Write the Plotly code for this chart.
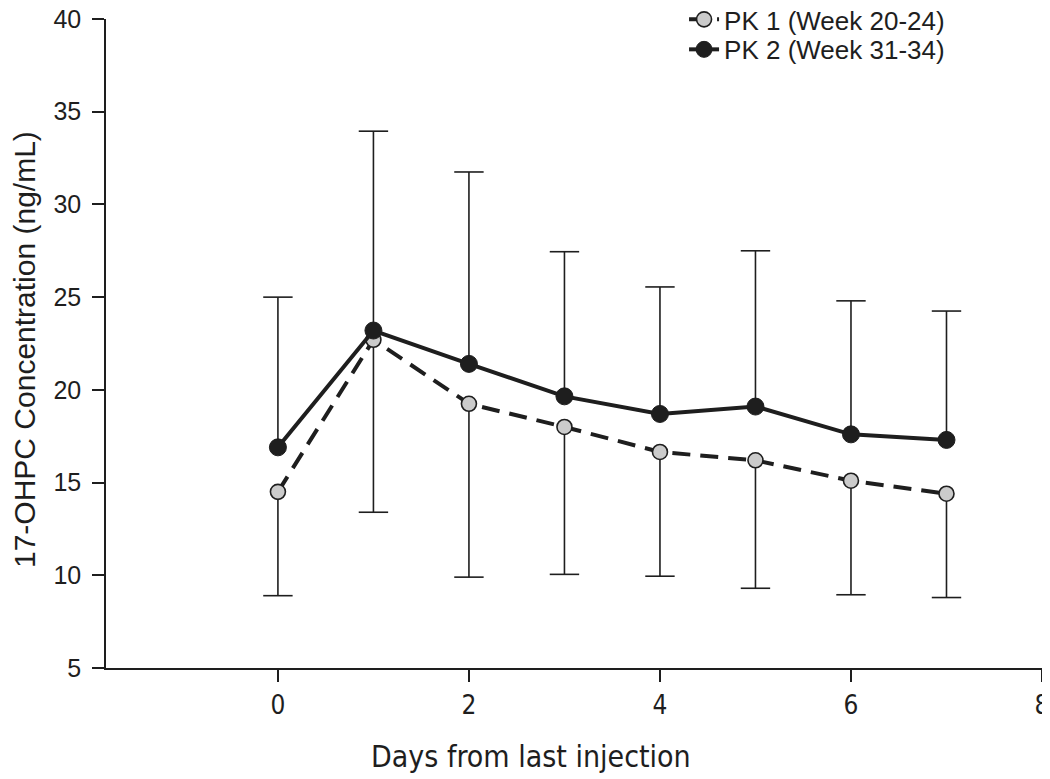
import plotly.graph_objects as go

# ---- data ----
days = [0, 1, 2, 3, 4, 5, 6, 7]
pk1_mean = [14.5, 22.7, 19.25, 18.0, 16.65, 16.2, 15.1, 14.4]
pk1_lower = [8.9, 13.4, 9.9, 10.05, 9.95, 9.3, 8.95, 8.8]
pk2_mean = [16.9, 23.2, 21.4, 19.65, 18.7, 19.1, 17.6, 17.3]
pk2_upper = [25.0, 33.95, 31.75, 27.45, 25.55, 27.5, 24.8, 24.25]
series_names = ["PK 1 (Week 20-24)", "PK 2 (Week 31-34)"]
x_ticks = [0, 2, 4, 6, 8]
y_ticks = [5, 10, 15, 20, 25, 30, 35, 40]
x_title = "Days from last injection"
y_title = "17-OHPC Concentration (ng/mL)"

INK = "#1e1e1e"
GRAY = "#cbcbcb"
FONT = "Liberation Sans, Arial, sans-serif"
NARROW = "Liberation Sans Narrow, DejaVu Sans Condensed, Arial Narrow, sans-serif"

fig = go.Figure()

# one-sided error bars: PK1 downward, PK2 upward
fig.add_trace(go.Scatter(
    x=days, y=pk1_mean, mode="markers", showlegend=False, hoverinfo="skip",
    marker=dict(size=1, opacity=0),
    error_y=dict(type="data", symmetric=False, array=[0] * len(days),
                 arrayminus=[m - l for m, l in zip(pk1_mean, pk1_lower)],
                 width=0, thickness=1.6, color=INK)))
fig.add_trace(go.Scatter(
    x=days, y=pk1_lower, mode="markers", showlegend=False, hoverinfo="skip",
    marker=dict(symbol="line-ew", size=21, line=dict(width=1.6, color=INK))))
fig.add_trace(go.Scatter(
    x=days, y=pk2_mean, mode="markers", showlegend=False, hoverinfo="skip",
    marker=dict(size=1, opacity=0),
    error_y=dict(type="data", symmetric=False,
                 array=[u - m for u, m in zip(pk2_upper, pk2_mean)],
                 arrayminus=[0] * len(days),
                 width=0, thickness=1.6, color=INK)))
fig.add_trace(go.Scatter(
    x=days, y=pk2_upper, mode="markers", showlegend=False, hoverinfo="skip",
    marker=dict(symbol="line-ew", size=21, line=dict(width=1.6, color=INK))))

# mean lines
fig.add_trace(go.Scatter(
    x=days, y=pk1_mean, mode="lines+markers", name=series_names[0], legend="legend",
    line=dict(color=INK, width=4, dash="18px,10px"),
    marker=dict(symbol="circle", size=15, color=GRAY, line=dict(color=INK, width=1.6))))
fig.add_trace(go.Scatter(
    x=days, y=pk2_mean, mode="lines+markers", name=series_names[1], legend="legend2",
    line=dict(color=INK, width=4),
    marker=dict(symbol="circle", size=17, color=INK, line=dict(color=INK, width=1))))

legend_common = dict(xref="container", yref="paper", xanchor="left", yanchor="top",
                     font=dict(family=FONT, size=26, color=INK),
                     bgcolor="rgba(0,0,0,0)", borderwidth=0)

# the page body adds an 8px offset, so the figure is 8px smaller than the window
fig.update_layout(
    width=1042, height=771,
    margin=dict(l=98, r=8, t=11, b=111, autoexpand=False),
    paper_bgcolor="white", plot_bgcolor="white",
    showlegend=True,
    legend=dict(x=0.6488, y=1.0355, **legend_common),
    legend2=dict(x=0.6488, y=0.9893, **legend_common),
    font=dict(family=FONT, color=INK),
    annotations=[
        dict(text=x_title, xref="paper", yref="paper", x=0.454, y=-0.137,
             xanchor="center", yanchor="middle", showarrow=False,
             font=dict(family=NARROW, size=30, color=INK)),
        dict(text=y_title, xref="paper", yref="paper", x=-0.0865, y=0.49,
             xanchor="center", yanchor="middle", showarrow=False, textangle=-90,
             font=dict(family=FONT, size=30, color=INK)),
    ],
)
fig.update_xaxes(
    range=[-1.8, 8], tickvals=x_ticks, ticktext=[str(t) for t in x_ticks],
    automargin=False, ticklabeloverflow="allow",
    showgrid=False, zeroline=False, showline=True, linecolor=INK, linewidth=1.6,
    ticks="outside", ticklen=12, tickwidth=1.6, tickcolor=INK,
    tickfont=dict(family=NARROW, size=26, color=INK), ticklabelstandoff=1,
)
fig.update_yaxes(
    range=[5, 40], tickvals=y_ticks, ticktext=[str(t) for t in y_ticks],
    automargin=False, ticklabeloverflow="allow",
    showgrid=False, zeroline=False, showline=True, linecolor=INK, linewidth=1.6,
    ticks="outside", ticklen=12, tickwidth=1.6, tickcolor=INK,
    tickfont=dict(family=FONT, size=25, color=INK), ticklabelstandoff=6,
)

fig.write_html("out.html")
